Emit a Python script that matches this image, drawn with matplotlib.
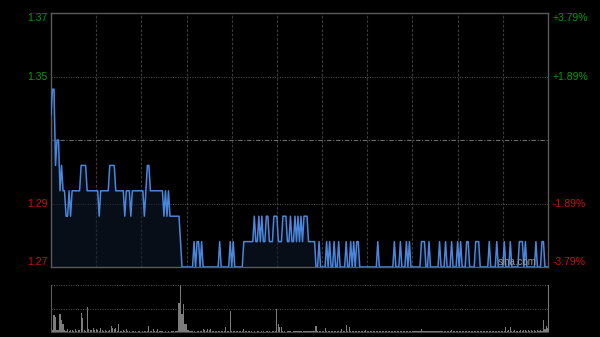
import numpy as np
import matplotlib
matplotlib.use('Agg')
import matplotlib.pyplot as plt

# intraday minute prices, 9:30-12:00 then 13:00-16:00 (331 points)
prices = [
    1.33, 1.34, 1.34, 1.31, 1.32, 1.32, 1.30, 1.31, 1.30, 1.30, 1.29, 1.29, 1.30, 1.29, 1.30,
    1.30, 1.30, 1.30, 1.30, 1.30, 1.31, 1.31, 1.31, 1.31, 1.30, 1.30, 1.30, 1.30, 1.30, 1.30,
    1.30, 1.30, 1.29, 1.30, 1.30, 1.30, 1.30, 1.30, 1.30, 1.31, 1.31, 1.31, 1.31, 1.30, 1.30,
    1.30, 1.30, 1.30, 1.30, 1.29, 1.30, 1.30, 1.30, 1.29, 1.30, 1.30, 1.30, 1.30, 1.30, 1.30,
    1.30, 1.30, 1.29, 1.30, 1.31, 1.31, 1.30, 1.30, 1.30, 1.30, 1.30, 1.30, 1.30, 1.30, 1.30,
    1.29, 1.30, 1.29, 1.30, 1.29, 1.29, 1.29, 1.29, 1.29, 1.29, 1.29, 1.28, 1.27, 1.27, 1.27,
    1.27, 1.27, 1.27, 1.27, 1.27, 1.28, 1.27, 1.28, 1.28, 1.27, 1.28, 1.27, 1.27, 1.27, 1.27,
    1.27, 1.27, 1.27, 1.27, 1.27, 1.27, 1.27, 1.28, 1.27, 1.27, 1.27, 1.27, 1.27, 1.27, 1.28,
    1.27, 1.28, 1.27, 1.27, 1.27, 1.27, 1.27, 1.27, 1.28, 1.28, 1.28, 1.28, 1.28, 1.28, 1.28,
    1.29, 1.28, 1.28, 1.29, 1.28, 1.29, 1.28, 1.28, 1.29, 1.29, 1.28, 1.28, 1.28, 1.29, 1.29,
    1.29, 1.28, 1.28, 1.28, 1.29, 1.29, 1.29, 1.28, 1.28, 1.29, 1.28, 1.28, 1.29, 1.28, 1.29,
    1.28, 1.29, 1.28, 1.29, 1.29, 1.29, 1.28, 1.28, 1.28, 1.28, 1.28, 1.27, 1.27, 1.28, 1.27,
    1.27, 1.27, 1.27, 1.28, 1.27, 1.28, 1.27, 1.27, 1.28, 1.27, 1.27, 1.28, 1.27, 1.27, 1.27,
    1.27, 1.28, 1.27, 1.27, 1.28, 1.27, 1.28, 1.27, 1.28, 1.28, 1.27, 1.27, 1.27, 1.27, 1.27,
    1.27, 1.27, 1.27, 1.27, 1.27, 1.27, 1.27, 1.28, 1.27, 1.27, 1.27, 1.27, 1.27, 1.27, 1.27,
    1.27, 1.27, 1.27, 1.28, 1.27, 1.27, 1.27, 1.28, 1.27, 1.27, 1.27, 1.28, 1.27, 1.28, 1.27,
    1.27, 1.27, 1.27, 1.27, 1.27, 1.27, 1.28, 1.28, 1.28, 1.27, 1.27, 1.28, 1.27, 1.27, 1.27,
    1.27, 1.27, 1.27, 1.28, 1.27, 1.27, 1.27, 1.28, 1.27, 1.27, 1.27, 1.28, 1.27, 1.27, 1.27,
    1.28, 1.27, 1.28, 1.27, 1.27, 1.27, 1.28, 1.28, 1.27, 1.27, 1.27, 1.27, 1.28, 1.28, 1.28,
    1.27, 1.27, 1.27, 1.27, 1.27, 1.27, 1.28, 1.27, 1.27, 1.27, 1.27, 1.28, 1.27, 1.27, 1.27,
    1.27, 1.28, 1.27, 1.27, 1.27, 1.28, 1.27, 1.27, 1.27, 1.27, 1.27, 1.28, 1.28, 1.28, 1.27,
    1.28, 1.27, 1.27, 1.27, 1.27, 1.27, 1.27, 1.28, 1.27, 1.27, 1.27, 1.28, 1.28, 1.27, 1.27,
    1.27,
]

# minute volumes (relative units, max = 100)
volumes = [
    3, 4, 36, 32, 5, 4, 38, 26, 18, 4, 3, 6, 3, 5, 4,
    3, 6, 2, 4, 5, 41, 29, 5, 3, 54, 6, 4, 5, 8, 4,
    7, 5, 3, 9, 4, 3, 5, 2, 3, 4, 12, 8, 7, 8, 3,
    16, 3, 2, 4, 2, 6, 3, 2, 1, 2, 3, 2, 1, 2, 2,
    1, 2, 2, 3, 2, 13, 2, 2, 6, 2, 3, 6, 2, 2, 2,
    1, 2, 1, 2, 1, 2, 2, 1, 2, 2, 62, 100, 39, 59, 16,
    16, 5, 3, 2, 2, 2, 1, 2, 2, 2, 2, 6, 5, 2, 6,
    4, 6, 2, 2, 2, 3, 2, 2, 2, 2, 2, 10, 2, 2, 45,
    3, 2, 2, 2, 2, 3, 2, 2, 7, 2, 2, 2, 2, 2, 1,
    2, 1, 2, 2, 1, 2, 2, 1, 2, 2, 2, 1, 2, 2, 2,
    50, 16, 10, 10, 2, 2, 1, 2, 2, 2, 1, 2, 2, 2, 2,
    2, 2, 1, 2, 2, 2, 2, 2, 2, 2, 3, 12, 2, 2, 2,
    2, 2, 9, 2, 2, 2, 3, 2, 2, 2, 2, 2, 3, 6, 2,
    3, 14, 2, 10, 2, 2, 2, 2, 2, 2, 2, 2, 2, 2, 4,
    2, 2, 3, 2, 2, 2, 2, 3, 2, 2, 2, 2, 2, 2, 2,
    2, 2, 2, 3, 2, 2, 2, 2, 2, 2, 2, 2, 3, 2, 2,
    2, 2, 2, 2, 2, 2, 7, 2, 2, 2, 2, 2, 2, 2, 2,
    2, 2, 2, 2, 2, 2, 2, 2, 2, 2, 2, 5, 2, 2, 2,
    2, 2, 3, 2, 2, 2, 2, 3, 2, 2, 2, 2, 2, 2, 2,
    2, 2, 2, 2, 3, 2, 2, 2, 2, 2, 2, 2, 2, 2, 2,
    2, 2, 10, 3, 5, 10, 2, 3, 5, 2, 2, 3, 5, 2, 5,
    5, 3, 5, 2, 5, 3, 5, 2, 5, 3, 5, 2, 25, 6, 12,
    8,
]

prev_close = 1.32
y_ticks = [1.27, 1.295, 1.32, 1.345, 1.37]
left_labels = ['1.27', '1.29', '', '1.35', '1.37']
right_labels = ['-3.79%', '-1.89%', '', '+1.89%', '+3.79%']

GREEN = '#0a9a0a'
RED = '#cc1010'
GRID = '#3a3a3a'
SPINE = '#5a5a5a'

plt.rcParams['font.family'] = ['Liberation Sans', 'DejaVu Sans']

minutes = np.arange(len(prices))

fig = plt.figure(figsize=(6, 3.37), dpi=100, facecolor='black')
ax = fig.add_axes([0.085, 0.2077, 0.8283, 0.7537], facecolor='black')
axv = fig.add_axes([0.085, 0.0148, 0.8283, 0.1395], facecolor='black')

# price line with a faint fill underneath
ax.fill_between(minutes, prices, y_ticks[0], color='#101a2c', alpha=0.55, lw=0, zorder=1)
ax.plot(minutes, prices, color='#4a86dc', lw=1.1, zorder=3)

ax.set_xlim(0, 330)
ax.set_ylim(y_ticks[0], y_ticks[-1])

# grids
for m in range(30, 330, 30):
    ax.axvline(m, color=GRID, lw=0.8, dashes=(2.5, 1.5), zorder=0)
for v in [1.295, 1.345]:
    ax.axhline(v, color='#555555', lw=0.7, dashes=(1, 1.5), zorder=0)
ax.axhline(prev_close, color='#6a6a6a', lw=0.8, dashes=(4, 1.5, 1, 1.5), zorder=0)

for s in ax.spines.values():
    s.set_color(SPINE)
    s.set_linewidth(1.0)

ax.set_xticks([])
ax.set_yticks(y_ticks)
ax.set_yticklabels(left_labels)
ax.tick_params(axis='y', length=0, pad=2.5, labelsize=7.5)

ax2 = ax.twinx()
ax2.set_ylim(y_ticks[0], y_ticks[-1])
ax2.set_yticks(y_ticks)
ax2.set_yticklabels(right_labels)
ax2.tick_params(axis='y', length=0, pad=3.5, labelsize=7.5)
for s in ax2.spines.values():
    s.set_visible(False)

for axis in [ax, ax2]:
    labs = axis.get_yticklabels()
    for i, lab in enumerate(labs):
        v = y_ticks[i]
        lab.set_color(GREEN if v > prev_close else RED)
        if i == 0:
            lab.set_va('bottom')
        elif i == len(labs) - 1:
            lab.set_va('top')
        else:
            lab.set_va('center')

ax.text(0.978, 0.02, 'sina.com', transform=ax.transAxes, ha='right', va='center',
        color='#9a9a9a', fontsize=7, zorder=5)

# volume panel
axv.bar(minutes, volumes, width=0.75, color='#7c7c7c', lw=0)
axv.set_xlim(0, 330)
axv.set_ylim(0, 100)
axv.axhline(50, color='#555555', lw=0.7, dashes=(1, 1.5))
axv.axhline(100, color='#555555', lw=0.7, dashes=(1, 1.5))
axv.spines['top'].set_visible(False)
axv.spines['bottom'].set_color('#444444')
axv.spines['left'].set_color(SPINE)
axv.spines['right'].set_color('#777777')
axv.set_xticks([])
axv.set_yticks([])

fig.savefig('out.png', dpi=100, facecolor='black')
